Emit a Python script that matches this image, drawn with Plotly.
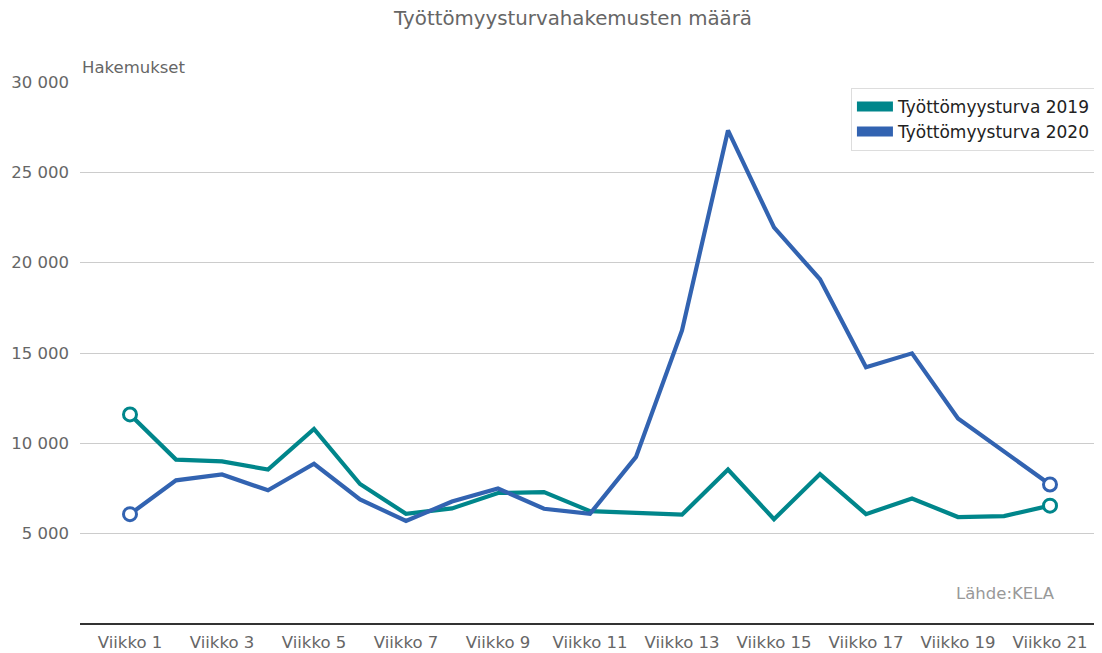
import plotly.graph_objects as go

weeks = [f"Viikko {i}" for i in range(1, 22)]
tyottomyysturva_2019 = [11600, 9100, 9000, 8550, 10800, 7750, 6100, 6400, 7250, 7300,
                        6250, 6150, 6050, 8550, 5800, 8300, 6080, 6950, 5920, 5970, 6550]
tyottomyysturva_2020 = [6080, 7950, 8280, 7400, 8870, 6900, 5700, 6780, 7500, 6380,
                        6100, 9250, 16250, 27320, 21950, 19080, 14210, 14980, 11380, 9570, 7720]
ytick_vals = [5000, 10000, 15000, 20000, 25000, 30000]
xtick_labels = weeks[::2]

c19 = "#00868b"
c20 = "#3263b1"
FONT = "DejaVu Sans"

fig = go.Figure()
for name, vals, col in [("Työttömyysturva 2019", tyottomyysturva_2019, c19),
                        ("Työttömyysturva 2020", tyottomyysturva_2020, c20)]:
    fig.add_trace(go.Scatter(x=weeks, y=vals, mode="lines", line=dict(color=col, width=4.2),
                             showlegend=False, hoverinfo="skip"))
    fig.add_trace(go.Scatter(x=[weeks[0], weeks[-1]], y=[vals[0], vals[-1]], mode="markers",
                             marker=dict(size=13, color="white", line=dict(color=col, width=3)),
                             showlegend=False))
    fig.add_trace(go.Scatter(x=[None], y=[None], mode="lines", name=name,
                             line=dict(color=col, width=14)))

fig.update_layout(
    width=1094, height=645,
    margin=dict(l=72, r=2, t=74, b=29),
    plot_bgcolor="white", paper_bgcolor="white",
    separators=", ",
    font=dict(family=FONT, color="#666666", size=16.5),
    title=dict(text="Työttömyysturvahakemusten määrä", x=0.5165, xanchor="center",
               y=1 - 10 / 645, yanchor="middle", font=dict(size=19.8, color="#666666", family=FONT)),
    xaxis=dict(type="category", range=[-1.087, 21.087], tickvals=xtick_labels,
               ticktext=xtick_labels, showgrid=False, showline=False, zeroline=False,
               ticks="", ticklabelstandoff=6,
               tickfont=dict(size=16.5, color="#666666", family=FONT)),
    yaxis=dict(range=[0, 30000], tickvals=ytick_vals, tickformat=",d", showgrid=True,
               gridcolor="#cccccc", gridwidth=1, zeroline=True, zerolinecolor="#333333",
               zerolinewidth=2, showline=False, ticks="", ticklabelstandoff=10,
               tickfont=dict(size=16.5, color="#666666", family=FONT)),
    legend=dict(x=0.997, xanchor="right", y=0.989, yanchor="top", bgcolor="white",
                bordercolor="#dddddd", borderwidth=1,
                font=dict(family=FONT, size=17, color="#222222"),
                tracegroupgap=0, itemwidth=36),
    showlegend=True,
)
fig.add_annotation(text="Hakemukset", xref="paper", yref="paper", x=0, y=1.0, yshift=15,
                   xanchor="left", yanchor="middle", showarrow=False,
                   font=dict(size=16.5, color="#666666", family=FONT))
fig.add_annotation(text="Lähde:KELA", xref="paper", yref="paper", x=0.958, y=0.057,
                   xanchor="right", yanchor="middle", showarrow=False,
                   font=dict(size=16.5, color="#999999", family=FONT))

fig.write_html("out.html")
